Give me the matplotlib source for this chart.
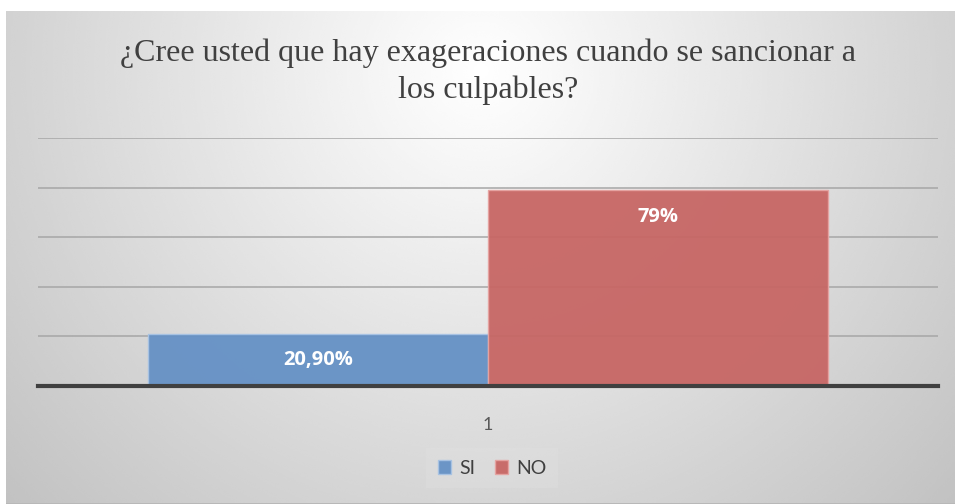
import numpy as np
import matplotlib.pyplot as plt
from matplotlib.patches import Rectangle

# =========================
# DATA
# =========================
title = "¿Cree usted que hay exageraciones cuando se sancionar a\nlos culpables?"
categories = ["1"]
series_names = ["SI", "NO"]
series_values = [20.9, 79.0]
value_labels = ["20,90%", "79%"]
colors = ["#6591c5", "#c76664"]
edge_colors = ["#a8c3e4", "#e6a3a1"]

W, H = 955, 504
fig = plt.figure(figsize=(W / 100, H / 100), dpi=100)
fig.patch.set_facecolor("white")

# =========================
# BACKGROUND (radial gray gradient)
# =========================
bg = fig.add_axes([6 / W, 0, 1 - 6 / W, 1 - 11 / H], zorder=0)
yy, xx = np.mgrid[0:1:300j, 0:1:600j]
dist = np.sqrt(((xx - 0.5) * 1.9) ** 2 + ((yy - 0.12) * 1.0) ** 2)
dist = np.clip(dist / dist.max(), 0, 1)
shade = 1.0 - 0.24 * dist ** 1.0
bg.imshow(shade, cmap="gray", vmin=0, vmax=1, aspect="auto",
          extent=[0, 1, 1, 0], interpolation="bicubic")
bg.set_axis_off()
bg.add_patch(Rectangle((0, 0), 1, 0.003, transform=bg.transAxes,
                       color="#b8b8b8", lw=0))

# =========================
# CHART
# =========================
ax = fig.add_axes([38 / W, (H - 386) / H, 900 / W, 248 / H], zorder=1)
ax.patch.set_alpha(0)

w = 0.378
x = np.arange(len(categories))
offsets = [-w / 2, w / 2]
for i, name in enumerate(series_names):
    bars = ax.bar(x + offsets[i], [series_values[i]], width=w, color=colors[i],
                  edgecolor=edge_colors[i], linewidth=1.0, alpha=0.95,
                  label=name, zorder=2)
    for b in bars:
        h = b.get_height()
        if h > 50:
            ty = h - 11
        else:
            ty = h / 2
        ax.text(b.get_x() + b.get_width() / 2, ty, value_labels[i],
                ha="center", va="center", color="white", fontsize=14.5,
                fontweight="bold", family="Open Sans", zorder=3)

ax.set_xlim(-0.5, 0.5)
ax.set_ylim(0, 100)
ax.set_yticks([20, 40, 60, 80, 100])
ax.yaxis.grid(True, color="#a6a6a6", linewidth=1.1, zorder=1)
ax.tick_params(axis="y", length=0, labelleft=False)
ax.set_xticks(x)
ax.set_xticklabels(categories, fontsize=13, color="#595959", family="Lato")
ax.tick_params(axis="x", length=0, pad=22)
for s in ["top", "right", "left"]:
    ax.spines[s].set_visible(False)
ax.spines["bottom"].set_color("#404040")
ax.spines["bottom"].set_linewidth(3)
ax.spines["bottom"].set_zorder(4)

# title
fig.text(488 / W, 1 - 72 / H, title, ha="center", va="center",
         fontsize=23, color="#404040", family="Liberation Serif",
         linespacing=1.35)

# legend
leg = fig.legend(loc="center", bbox_to_anchor=(492 / W, 1 - 468 / H), ncol=2,
                 frameon=True, handlelength=0.7, handleheight=0.7,
                 handletextpad=0.4, columnspacing=1.0,
                 prop={"family": "Lato", "size": 14})
leg.get_frame().set_facecolor("white")
leg.get_frame().set_alpha(0.08)
leg.get_frame().set_edgecolor("none")
leg.get_frame().set_boxstyle("square", pad=0.2)
for t in leg.get_texts():
    t.set_color("#404040")

fig.savefig("out.png", dpi=100)
